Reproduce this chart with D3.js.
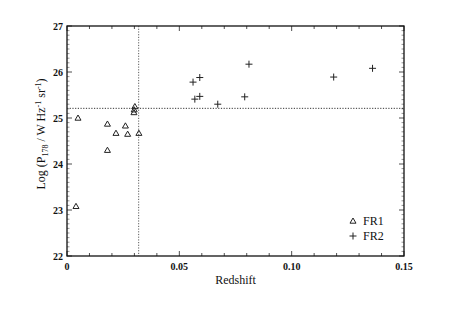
<!DOCTYPE html>
<html lang="en">
<head>
<meta charset="UTF-8" />
<title>Redshift vs Log P178</title>
<script src="https://d3js.org/d3.v7.min.js"></script>
<style>
    body { margin: 0; background: #fff; }
    svg text { font-family: "Liberation Serif", "DejaVu Serif", serif; fill: #111; }
    .tick-label { font-size: 10px; font-weight: bold; }
</style>
</head>
<body>
<svg id="chart" width="458" height="324"></svg>
<script>
    // FR1 sources (triangles)
    const fr1Redshift = [0.0049, 0.0040, 0.0180, 0.0180, 0.0218, 0.0260, 0.0270, 0.0320, 0.0302, 0.0299, 0.0298];
    const fr1LogP     = [25.00, 23.08, 24.87, 24.30, 24.67, 24.83, 24.65, 24.67, 25.25, 25.18, 25.12];
    // FR2 sources (crosses)
    const fr2Redshift = [0.0561, 0.0591, 0.0569, 0.0591, 0.0671, 0.0791, 0.0810, 0.1187, 0.1360];
    const fr2LogP     = [25.78, 25.88, 25.41, 25.47, 25.30, 25.46, 26.17, 25.89, 26.08];
    // FR1/FR2 dividing lines
    const cutRedshift = 0.0319;
    const cutLogP = 25.21;

    const xTicks = [0, 0.05, 0.10, 0.15];
    const xTickLabels = ["0", "0.05", "0.10", "0.15"];
    const yTicks = [22, 23, 24, 25, 26, 27];

    const margin = { top: 26, right: 54, bottom: 68, left: 67 };
    const width = 458 - margin.left - margin.right;
    const height = 324 - margin.top - margin.bottom;

    const svg = d3.select("#chart")
        .append("g")
        .attr("transform", `translate(${margin.left},${margin.top})`);

    const x = d3.scaleLinear().domain([0, 0.15]).range([0, width]);
    const y = d3.scaleLinear().domain([22, 27]).range([height, 0]);

    // minor ticks every 0.01 / 0.1
    const xMinor = d3.range(0, 0.1501, 0.01);
    const yMinor = d3.range(22, 27.001, 0.1);

    const ticks = svg.append("g").attr("stroke", "#222").attr("stroke-width", 0.8);
    xMinor.forEach(v => {
        const isMajor = Math.abs(v / 0.05 - Math.round(v / 0.05)) < 1e-6;
        const len = isMajor ? 5 : 3;
        ticks.append("line").attr("x1", x(v)).attr("x2", x(v)).attr("y1", height).attr("y2", height - len);
        ticks.append("line").attr("x1", x(v)).attr("x2", x(v)).attr("y1", 0).attr("y2", len);
    });
    yMinor.forEach(v => {
        const isMajor = Math.abs(v - Math.round(v)) < 1e-6;
        const len = isMajor ? 5 : 2.5;
        ticks.append("line").attr("y1", y(v)).attr("y2", y(v)).attr("x1", 0).attr("x2", len).attr("stroke-opacity", isMajor ? 1 : 0.6);
        ticks.append("line").attr("y1", y(v)).attr("y2", y(v)).attr("x1", width).attr("x2", width - len).attr("stroke-opacity", isMajor ? 1 : 0.6);
    });

    // frame
    svg.append("rect")
        .attr("width", width).attr("height", height)
        .attr("fill", "none").attr("stroke", "#111").attr("stroke-width", 1.3);

    // tick labels
    svg.selectAll(".xl").data(xTicks).enter().append("text")
        .attr("class", "tick-label")
        .attr("x", d => x(d)).attr("y", height + 14)
        .attr("text-anchor", "middle")
        .text((d, i) => xTickLabels[i]);
    svg.selectAll(".yl").data(yTicks).enter().append("text")
        .attr("class", "tick-label")
        .attr("x", -4).attr("y", d => y(d) + 3.5)
        .attr("text-anchor", "end")
        .text(d => d);

    // axis titles
    svg.append("text")
        .attr("x", width / 2).attr("y", height + 28)
        .attr("text-anchor", "middle")
        .attr("font-size", 12)
        .text("Redshift");

    const yt = svg.append("text")
        .attr("transform", `translate(-22, ${height / 2 - 7}) rotate(-90)`)
        .attr("text-anchor", "middle")
        .attr("font-size", 12);
    yt.append("tspan").text("Log (P");
    yt.append("tspan").attr("font-size", 8).attr("dy", 3).text("178");
    yt.append("tspan").attr("dy", -3).text(" / W Hz");
    yt.append("tspan").attr("font-size", 8).attr("dy", -4).text("-1");
    yt.append("tspan").attr("dy", 4).text(" sr");
    yt.append("tspan").attr("font-size", 8).attr("dy", -4).text("-1");
    yt.append("tspan").attr("dy", 4).text(")");

    // dotted dividing lines
    svg.append("line")
        .attr("x1", x(cutRedshift)).attr("x2", x(cutRedshift))
        .attr("y1", 0).attr("y2", height)
        .attr("stroke", "#333").attr("stroke-width", 0.8).attr("stroke-dasharray", "1.2,1.5");
    svg.append("line")
        .attr("x1", 0).attr("x2", width)
        .attr("y1", y(cutLogP)).attr("y2", y(cutLogP))
        .attr("stroke", "#333").attr("stroke-width", 1).attr("stroke-dasharray", "1.2,1.5");

    const triPath = "M0,-3L3,2.2L-3,2.2Z";
    const crossPath = "M-3.5,0H3.5M0,-3.5V3.5";

    const fr1 = fr1Redshift.map((z, i) => ({ z, p: fr1LogP[i] }));
    const fr2 = fr2Redshift.map((z, i) => ({ z, p: fr2LogP[i] }));

    svg.selectAll(".fr1").data(fr1).enter().append("path")
        .attr("d", triPath)
        .attr("transform", d => `translate(${x(d.z)},${y(d.p)})`)
        .attr("fill", "none").attr("stroke", "#222").attr("stroke-width", 1);

    svg.selectAll(".fr2").data(fr2).enter().append("path")
        .attr("d", crossPath)
        .attr("transform", d => `translate(${x(d.z)},${y(d.p)})`)
        .attr("fill", "none").attr("stroke", "#222").attr("stroke-width", 1);

    // legend
    const legend = svg.append("g").attr("transform", `translate(${width - 51}, ${height - 35})`);
    legend.append("path").attr("d", triPath).attr("fill", "none").attr("stroke", "#222");
    legend.append("text").attr("x", 10).attr("y", 4).attr("font-size", 12).text("FR1");
    legend.append("path").attr("d", crossPath).attr("transform", "translate(0,15)").attr("fill", "none").attr("stroke", "#222");
    legend.append("text").attr("x", 10).attr("y", 19).attr("font-size", 12).text("FR2");
</script>
</body>
</html>
